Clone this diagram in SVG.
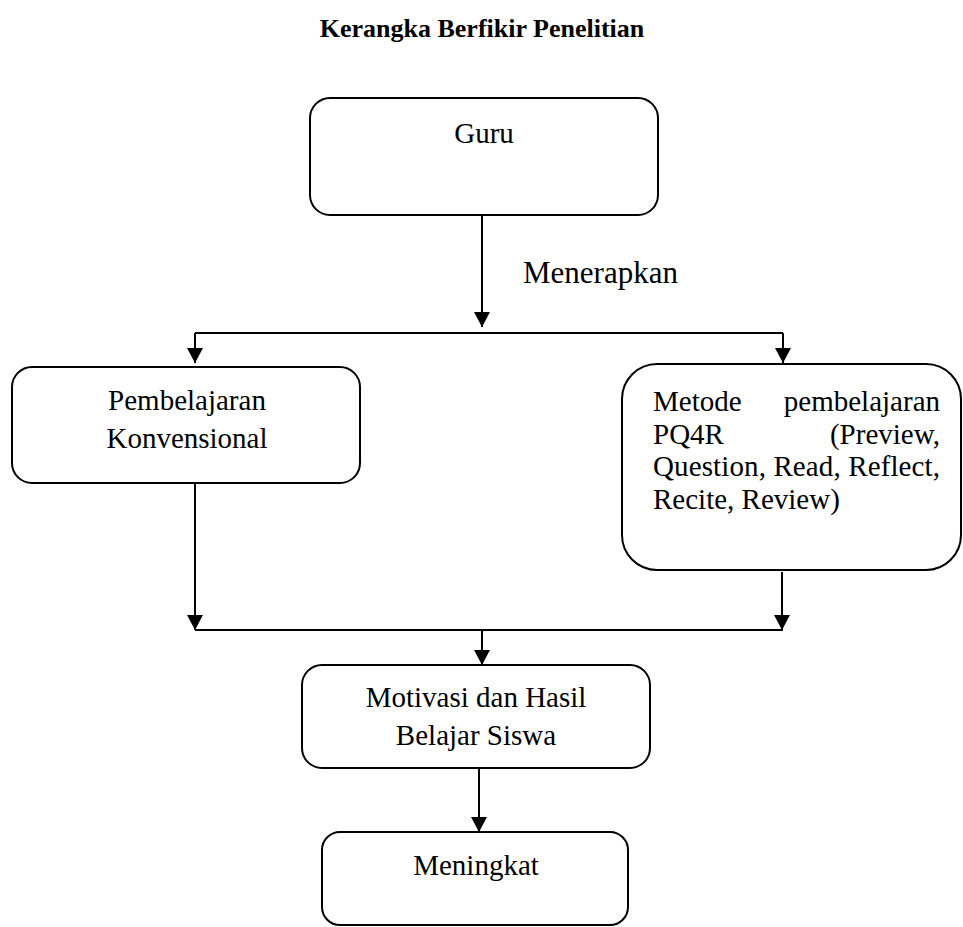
<svg xmlns="http://www.w3.org/2000/svg" width="963" height="927" viewBox="0 0 963 927">
  <style>
    .box { fill: #ffffff; stroke: #000000; stroke-width: 2; }
    .t { font-family: "Liberation Serif", "Times New Roman", serif; font-size: 29px; fill: #000000; }
    .c { text-anchor: middle; }
    .title { font-family: "Liberation Serif", "Times New Roman", serif; font-size: 26px; font-weight: bold; fill: #000000; text-anchor: middle; }
    .ln { stroke: #000000; stroke-width: 2; fill: none; }
  </style>
  <defs>
    <marker id="arr" markerUnits="userSpaceOnUse" viewBox="0 0 15 16" markerWidth="15" markerHeight="16" refX="15" refY="8" orient="auto">
      <path d="M0,0 L15,8 L0,16 z" fill="#000000"/>
    </marker>
  </defs>
  <rect width="963" height="927" fill="#ffffff"/>
  <text class="title" x="482" y="37">Kerangka Berfikir Penelitian</text>

  <g id="connectors">
    <path class="ln" d="M482,215 V327" marker-end="url(#arr)"/>
    <text class="t" x="523" y="283" style="font-size:31px">Menerapkan</text>
    <path class="ln" d="M195,333 H783"/>
    <path class="ln" d="M195,333 V363" marker-end="url(#arr)"/>
    <path class="ln" d="M783,333 V363" marker-end="url(#arr)"/>
    <path class="ln" d="M195,483 V630" marker-end="url(#arr)"/>
    <path class="ln" d="M782,572 V630" marker-end="url(#arr)"/>
    <path class="ln" d="M195,630 H783"/>
    <path class="ln" d="M482,630 V665" marker-end="url(#arr)"/>
    <path class="ln" d="M479,768 V832" marker-end="url(#arr)"/>
  </g>

  <g id="guru">
    <rect class="box" x="310" y="98" width="348" height="117" rx="20"/>
    <text class="t c" x="484" y="143">Guru</text>
  </g>

  <g id="konvensional">
    <rect class="box" x="12" y="367" width="348" height="116" rx="20"/>
    <text class="t c" x="187" y="410">Pembelajaran</text>
    <text class="t c" x="187" y="448">Konvensional</text>
  </g>

  <g id="pq4r">
    <rect class="box" x="622" y="364" width="339" height="206" rx="35"/>
    <text class="t" x="653" y="411">Metode</text>
    <text class="t" x="940" y="411" text-anchor="end">pembelajaran</text>
    <text class="t" x="653" y="443.5">PQ4R</text>
    <text class="t" x="940" y="443.5" text-anchor="end">(Preview,</text>
    <text class="t" x="653" y="476" textLength="287" lengthAdjust="spacing">Question, Read, Reflect,</text>
    <text class="t" x="653" y="508.5">Recite, Review)</text>
  </g>

  <g id="motivasi">
    <rect class="box" x="302" y="665" width="348" height="103" rx="20"/>
    <text class="t c" x="476" y="707">Motivasi dan Hasil</text>
    <text class="t c" x="476" y="745">Belajar Siswa</text>
  </g>

  <g id="meningkat">
    <rect class="box" x="322" y="832" width="306" height="93" rx="18"/>
    <text class="t c" x="476" y="875">Meningkat</text>
  </g>
</svg>
